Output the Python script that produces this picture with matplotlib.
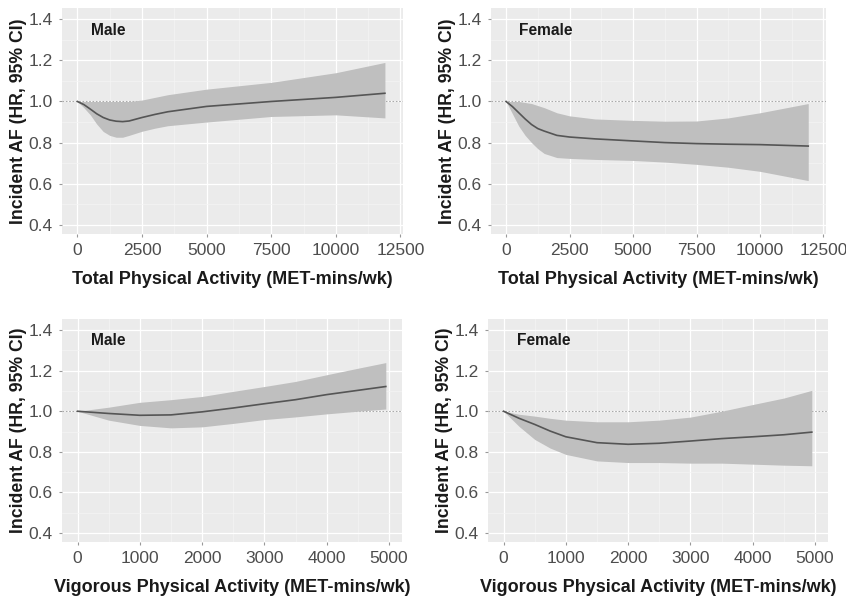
import matplotlib
matplotlib.use("Agg")
import matplotlib.pyplot as plt
from matplotlib.ticker import MultipleLocator, FixedLocator

plt.rcParams['font.family'] = ['Liberation Sans', 'DejaVu Sans']

# Total physical activity, male
tm_x = [0, 250, 500, 750, 1000, 1250, 1500, 1750, 2000, 2500, 3000, 3500, 5000, 7500, 10000, 11900]
tm_y = [1.0, 0.985, 0.963, 0.94, 0.922, 0.91, 0.904, 0.902, 0.905, 0.922, 0.937, 0.95, 0.976, 1.0, 1.02, 1.04]
tm_lo = [1.0, 0.97, 0.935, 0.89, 0.854, 0.835, 0.826, 0.826, 0.835, 0.855, 0.87, 0.882, 0.90, 0.927, 0.935, 0.92]
tm_hi = [1.0, 1.0, 1.0, 1.0, 1.0, 1.0, 1.0, 1.0, 1.0, 1.007, 1.02, 1.033, 1.06, 1.093, 1.14, 1.19]

# Total physical activity, female
tf_x = [0, 250, 500, 750, 1000, 1250, 1500, 2000, 2500, 3500, 5000, 6250, 7500, 8750, 10000, 11900]
tf_y = [1.0, 0.975, 0.945, 0.915, 0.888, 0.868, 0.856, 0.835, 0.827, 0.818, 0.808, 0.80, 0.795, 0.792, 0.79, 0.783]
tf_lo = [1.0, 0.94, 0.88, 0.835, 0.80, 0.77, 0.747, 0.727, 0.723, 0.718, 0.713, 0.705, 0.694, 0.68, 0.66, 0.615]
tf_hi = [1.0, 1.0, 1.0, 0.995, 0.99, 0.98, 0.97, 0.945, 0.93, 0.915, 0.908, 0.904, 0.905, 0.92, 0.945, 0.99]

# Vigorous physical activity, male
vm_x = [0, 500, 1000, 1500, 2000, 2500, 3000, 3500, 4000, 4500, 4950]
vm_y = [1.0, 0.989, 0.98, 0.982, 0.997, 1.016, 1.037, 1.057, 1.082, 1.103, 1.122]
vm_lo = [1.0, 0.956, 0.93, 0.918, 0.923, 0.94, 0.959, 0.972, 0.987, 1.0, 1.011]
vm_hi = [1.0, 1.02, 1.044, 1.057, 1.073, 1.098, 1.122, 1.147, 1.18, 1.212, 1.24]

# Vigorous physical activity, female
vf_x = [0, 250, 500, 750, 1000, 1500, 2000, 2500, 3000, 3500, 4000, 4500, 4950]
vf_y = [1.0, 0.965, 0.935, 0.902, 0.874, 0.845, 0.837, 0.842, 0.853, 0.865, 0.874, 0.884, 0.897]
vf_lo = [1.0, 0.925, 0.861, 0.818, 0.787, 0.755, 0.747, 0.747, 0.744, 0.744, 0.739, 0.734, 0.731]
vf_hi = [1.0, 0.985, 0.976, 0.965, 0.956, 0.948, 0.948, 0.956, 0.971, 1.0, 1.033, 1.065, 1.103]

panels = [
    (tm_x, tm_y, tm_lo, tm_hi, "Male", "Total Physical Activity (MET-mins/wk)", [0, 2500, 5000, 7500, 10000, 12500]),
    (tf_x, tf_y, tf_lo, tf_hi, "Female", "Total Physical Activity (MET-mins/wk)", [0, 2500, 5000, 7500, 10000, 12500]),
    (vm_x, vm_y, vm_lo, vm_hi, "Male", "Vigorous Physical Activity (MET-mins/wk)", [0, 1000, 2000, 3000, 4000, 5000]),
    (vf_x, vf_y, vf_lo, vf_hi, "Female", "Vigorous Physical Activity (MET-mins/wk)", [0, 1000, 2000, 3000, 4000, 5000]),
]

W, H = 846, 604
rects = [
    (62, 8, 403, 234),
    (491, 8, 826, 234),
    (62, 319, 402, 542),
    (488, 319, 828, 542),
]

fig = plt.figure(figsize=(W / 100, H / 100), dpi=100)
fig.patch.set_facecolor('white')

for (x, y, lo, hi, title, xlabel, xticks), (l, t, r, b) in zip(panels, rects):
    ax = fig.add_axes([l / W, 1 - b / H, (r - l) / W, (b - t) / H])
    ax.set_facecolor('#EBEBEB')
    for s in ax.spines.values():
        s.set_visible(False)
    step = xticks[1] - xticks[0]
    span = xticks[-1]
    if span == 12500:
        ax.set_xlim(-595, 12600)
    else:
        ax.set_xlim(-250, 5210)
    ax.set_ylim(0.355, 1.455)
    ax.xaxis.set_major_locator(FixedLocator(xticks))
    ax.xaxis.set_minor_locator(MultipleLocator(step / 2))
    ax.yaxis.set_major_locator(FixedLocator([0.4, 0.6, 0.8, 1.0, 1.2, 1.4]))
    ax.yaxis.set_minor_locator(MultipleLocator(0.1))
    ax.grid(which='major', color='white', linewidth=0.9)
    ax.grid(which='minor', color='#F4F4F4', linewidth=0.5)
    ax.set_axisbelow(True)
    ax.tick_params(which='major', length=2.5, width=0.8, color='#999999',
                   labelsize=12.5, labelcolor='#4D4D4D', pad=4)
    ax.tick_params(which='minor', length=0)
    ax.set_yticklabels(['0.4', '0.6', '0.8', '1.0', '1.2', '1.4'])
    ax.set_xticklabels([str(v) for v in xticks])
    ax.axhline(1.0, color='#AAAAAA', linestyle=(0, (1.5, 1.5)), linewidth=0.8, zorder=2)
    ax.fill_between(x, lo, hi, color='#BFBFBF', linewidth=0, zorder=3)
    ax.plot(x, y, color='#555555', linewidth=1.2, zorder=4)
    ax.text(0.085, 0.935, title, transform=ax.transAxes, fontsize=11.2,
            fontweight='bold', color='#1A1A1A', va='top', ha='left')
    ax.set_xlabel(xlabel, fontsize=13, fontweight='bold', color='#1A1A1A', labelpad=9)
    ax.set_ylabel("Incident AF (HR, 95% CI)", fontsize=12.7, fontweight='bold',
                  color='#1A1A1A', labelpad=1)

fig.savefig("out.png", dpi=100, facecolor='white')
